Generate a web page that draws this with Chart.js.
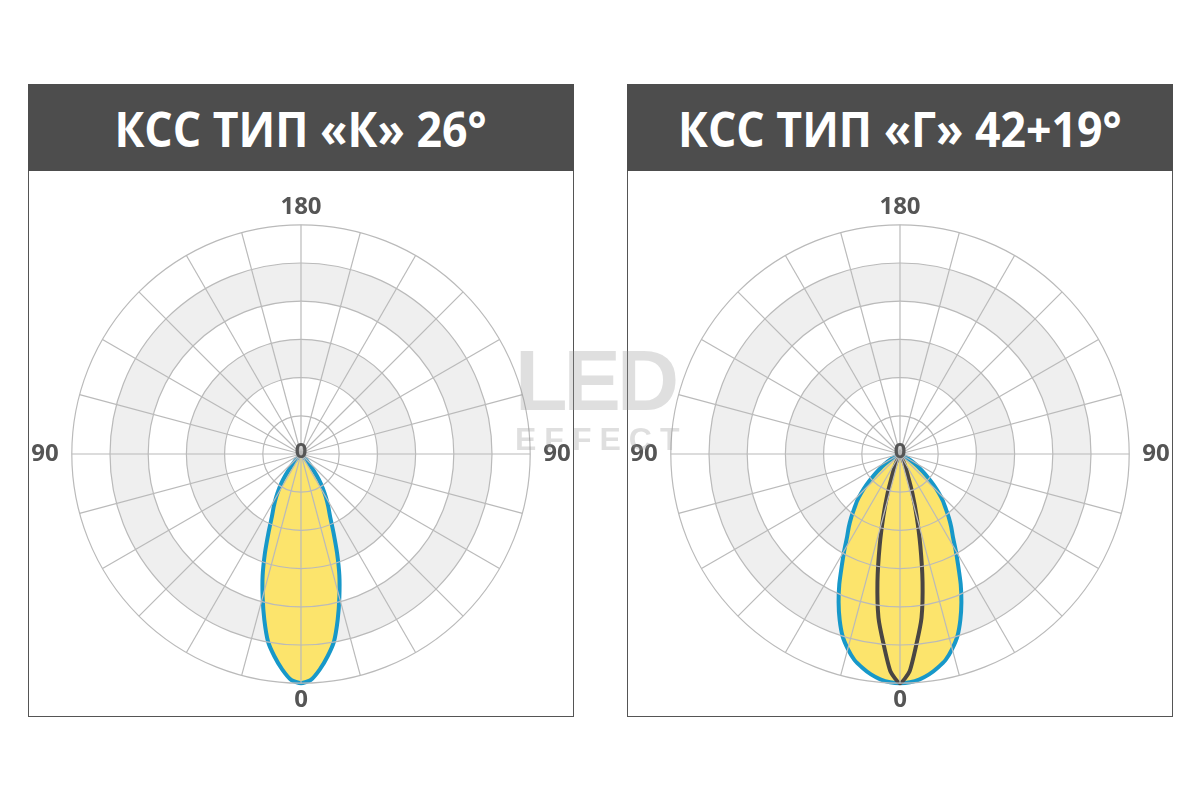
<!DOCTYPE html>
<html>
<head>
<meta charset="utf-8">
<script src="https://cdn.jsdelivr.net/npm/chart.js@4.4.1/dist/chart.umd.min.js"></script>
<style>
  html, body { margin: 0; padding: 0; background: #fff; }
  body { width: 1200px; height: 800px; position: relative; overflow: hidden; font-family: 'Open Sans', sans-serif; }
  .panel { position: absolute; top: 84px; width: 544px; height: 632px; border: 1px solid #555; border-top: none; }
  .head { height: 87px; margin: 0 -1px; background: #4d4d4d; color: #fff; text-align: center;
          font-weight: 700; font-size: 49px; line-height: 85px; padding-top: 2px; box-sizing: border-box; white-space: nowrap; }
  .head span { display: inline-block; transform: scaleX(0.91); }
  .plot { position: relative; width: 544px; height: 545px; }
  .mark { position: absolute; left: 515px; color: rgba(150,150,150,0.3); font-family: 'Liberation Sans', sans-serif;
          font-weight: 700; line-height: 1; white-space: nowrap; pointer-events: none; }
</style>
</head>
<body>
<div class="panel" style="left:28px">
  <div class="head"><span id="titleK"></span></div>
  <div class="plot"><canvas id="chartK"></canvas></div>
</div>
<div class="panel" style="left:627px">
  <div class="head"><span id="titleG"></span></div>
  <div class="plot"><canvas id="chartG"></canvas></div>
</div>
<div class="mark" style="top:337px;font-size:86px;letter-spacing:-4px">LED</div>
<div class="mark" style="top:423px;font-size:32px;letter-spacing:8px">EFFECT</div>
<script>
// заголовки панелей
var titles = ['КСС ТИП «К» 26°', 'КСС ТИП «Г» 42+19°'];

// шаг по углу и подписи, которые видно на шкале
var STEP = 2.5;
var shownLabels = [0, 90, 180];
var ringMax = 300;
var ringStep = 50;
var bands = [[100, 150], [200, 250]];

// сила света от угла (0°, 2.5°, 5° ...), кривая симметрична
var typeK = [300, 296, 283, 267, 249, 222, 194, 167, 138, 111, 90, 77, 65, 53, 41, 27, 15, 6, 0];
var typeGWide = [300, 299, 296, 291, 284, 276, 264, 250, 231, 210, 188, 165, 146, 129, 117, 105, 93, 83, 71, 59, 47, 37, 29, 21, 14, 7, 0];
var typeGNarrow = [300, 285, 249, 216, 170, 123, 84, 54, 30, 20, 9, 0];

var gammaLabels = [];
for (var i = 0; i < 360 / STEP; i++) {
    gammaLabels.push(Math.abs(180 - i * STEP));
}

function spread(profile) {
    return gammaLabels.map(function (g) {
        var k = g / STEP;
        return k < profile.length ? profile[k] : 0;
    });
}

function bandSets() {
    return bands.map(function (b) {
        return {
            data: gammaLabels.map(function () { return b[1]; }),
            fill: { value: b[0] },
            backgroundColor: '#efefef',
            borderColor: 'transparent',
            borderWidth: 0,
            pointRadius: 0
        };
    });
}

var centerZero = {
    id: 'centerZero',
    afterDraw: function (chart) {
        var s = chart.scales.r;
        var ctx = chart.ctx;
        ctx.save();
        ctx.font = 'bold 22px "Open Sans"';
        ctx.fillStyle = '#555';
        ctx.textAlign = 'center';
        ctx.textBaseline = 'middle';
        ctx.fillText(String(shownLabels[0]), s.xCenter, s.yCenter - 2);
        ctx.restore();
    }
};

function options() {
    var side = 360 / STEP / 4;
    return {
        responsive: true,
        maintainAspectRatio: false,
        animation: false,
        events: [],
        layout: { padding: { top: 22 } },
        plugins: { legend: { display: false }, tooltip: { enabled: false } },
        elements: { line: { tension: 0.2 } },
        scales: {
            r: {
                z: 1,
                min: 0,
                max: ringMax,
                ticks: { stepSize: ringStep, display: false },
                grid: { circular: true, color: '#bababa', lineWidth: 1.2, z: 1 },
                angleLines: {
                    color: '#bababa',
                    lineWidth: function (c) { return c.index % 6 === 0 ? 1.2 : 0; }
                },
                pointLabels: {
                    callback: function (label) {
                        return shownLabels.indexOf(label) >= 0 ? String(label) : '';
                    },
                    color: '#555',
                    font: { family: 'Open Sans', size: 24, weight: 'bold' },
                    padding: function (c) { return c.index % (side * 2) === side ? 13 : 3; }
                }
            }
        }
    };
}

Chart.defaults.font.family = 'Open Sans';

document.getElementById('titleK').textContent = titles[0];
document.getElementById('titleG').textContent = titles[1];

new Chart(document.getElementById('chartK'), {
    type: 'radar',
    data: {
        labels: gammaLabels,
        datasets: [{
            data: spread(typeK),
            fill: 'origin',
            backgroundColor: '#fce46c',
            borderColor: '#1798c9',
            borderWidth: 4,
            pointRadius: 0
        }].concat(bandSets())
    },
    options: options(),
    plugins: [centerZero]
});

new Chart(document.getElementById('chartG'), {
    type: 'radar',
    data: {
        labels: gammaLabels,
        datasets: [{
            data: spread(typeGNarrow),
            fill: false,
            borderColor: '#4a4643',
            borderWidth: 4,
            pointRadius: 0
        }, {
            data: spread(typeGWide),
            fill: 'origin',
            backgroundColor: '#fce46c',
            borderColor: '#1798c9',
            borderWidth: 4,
            pointRadius: 0
        }].concat(bandSets())
    },
    options: options(),
    plugins: [centerZero]
});
</script>
</body>
</html>
